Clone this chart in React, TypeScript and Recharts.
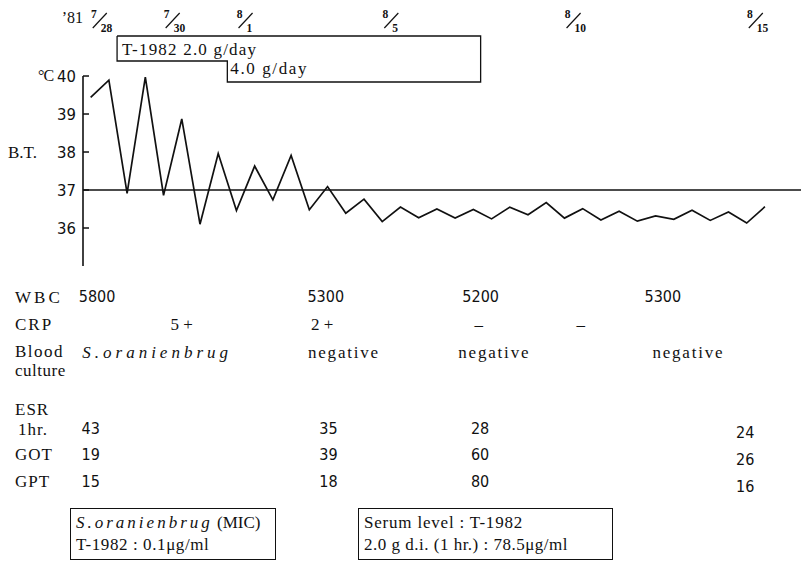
import React from 'react'
import { LineChart, Line, XAxis, YAxis, ReferenceLine, ReferenceArea } from 'recharts'

// body temperature, two readings a day, 7/28 .. 8/15 ('81)
const bodyTemp = [
  39.44, 39.89, 36.91, 39.97, 36.86, 38.87, 36.1, 37.96, 36.46, 37.63,
  36.74, 37.91, 36.48, 37.09, 36.39, 36.76, 36.17, 36.55, 36.27, 36.5,
  36.26, 36.49, 36.24, 36.55, 36.35, 36.67, 36.26, 36.51, 36.21, 36.44,
  36.18, 36.32, 36.23, 36.47, 36.2, 36.42, 36.13, 36.56,
]

const tempTicks = [36, 37, 38, 39, 40]

// date labels on top (position in readings)
const dateTickPos = [0.5, 4.5, 8.5, 16.5, 26.5, 36.5]
const dateMonth = ['7', '7', '8', '8', '8', '8']
const dateDay = ['28', '30', '1', '5', '10', '15']

// T-1982 dosing (position in readings)
const drugStart = 1.45
const doseUp = 7.5
const drugEnd = 21.4
const doseLabels = ['T-1982 2.0 g/day', '4.0 g/day']

// lab table
const wbcAt = [0.35, 12.9, 21.4, 31.4]
const wbcVal = ['5800', '5300', '5200', '5300']
const crpAt = [5.0, 12.7, 21.3, 26.9]
const crpVal = ['5 +', '2 +', '–', '–']
const cultureAt = [3.65, 13.9, 22.15, 32.8]
const cultureVal = ['S.oranienbrug', 'negative', 'negative', 'negative']
const labAt = [0.0, 13.05, 21.37, 35.92]
const esrVal = ['43', '35', '28', '24']
const gotVal = ['19', '39', '60', '26']
const gptVal = ['15', '18', '80', '16']

const X_MIN = -0.42
const X_MAX = 38.98
const Y_MIN = 35
const Y_MAX = 41.053
const PLOT_L = 83
const PLOT_R = 801
const INK = '#111'
const SERIF = "'Liberation Serif', 'DejaVu Serif', serif"
const NARROW = "'Liberation Sans Narrow', 'DejaVu Sans Condensed', 'Liberation Sans', sans-serif"

const xPx = (i: number) => PLOT_L + ((i - X_MIN) / (X_MAX - X_MIN)) * (PLOT_R - PLOT_L)

const tempData = bodyTemp.map((t, i) => ({ x: i, t }))

// y levels of the dosing box edges (in temperature units, above the 40 line)
const boxTop = Y_MAX
const boxMid = 40.395
const boxLow = 39.842
const drugBox = [
  { x: drugStart, level: boxTop },
  { x: drugEnd, level: boxTop },
  { x: drugEnd, level: boxLow },
  { x: doseUp, level: boxLow },
  { x: doseUp, level: boxMid },
  { x: drugStart, level: boxMid },
  { x: drugStart, level: boxTop },
]

function TempTick(props: any) {
  const { x, y, payload } = props
  return (
    <g>
      <line x1={x} x2={x + 6} y1={y} y2={y} stroke={INK} strokeWidth={1.5} />
      <text x={x - 7} y={y} dy="0.36em" textAnchor="end" fontFamily={NARROW} fontSize={16.5} fill={INK}>
        {payload.value}
      </text>
      {payload.value === 40 && (
        <text x={x - 45} y={y} dy="0.34em" fontFamily={SERIF} fontSize={16} fill={INK} letterSpacing={-1}>
          °C
        </text>
      )}
      {payload.value === 38 && (
        <text x={x - 75} y={y} dy="0.34em" fontFamily={SERIF} fontSize={17} fill={INK}>
          B.T.
        </text>
      )}
    </g>
  )
}

function DateTick(props: any) {
  const { x, y, payload } = props
  const k = dateTickPos.indexOf(payload.value)
  return (
    <g fill={INK} fontFamily={SERIF} fontWeight="bold" fontSize={11.5}>
      {k === 0 && (
        <text x={x - 38} y={y - 13} fontSize={16} fontWeight="normal">
          ’81
        </text>
      )}
      <text x={x - 6} y={y - 18} textAnchor="middle">{dateMonth[k]}</text>
      <line x1={x - 7} y1={y - 8} x2={x + 7} y2={y - 23} stroke={INK} strokeWidth={1.2} />
      <text x={x + 1} y={y - 4}>{dateDay[k]}</text>
    </g>
  )
}

function Cell({ x, y, children, style }: any) {
  return (
    <div
      style={{
        position: 'absolute', left: x, top: y, transform: 'translate(-50%, -50%)',
        whiteSpace: 'nowrap', lineHeight: 1, color: INK, ...style,
      }}
    >
      {children}
    </div>
  )
}

function RowLabel({ x = 15, y, children, spacing = 1 }: any) {
  return (
    <div
      style={{
        position: 'absolute', left: x, top: y, transform: 'translateY(-50%)',
        whiteSpace: 'nowrap', lineHeight: 1, color: INK, fontFamily: SERIF,
        fontSize: 17, letterSpacing: spacing,
      }}
    >
      {children}
    </div>
  )
}

const numStyle = { fontFamily: NARROW, fontSize: 16 }
const serifStyle = { fontFamily: SERIF, fontSize: 17, letterSpacing: 1.8 }
const italicStyle = { fontFamily: SERIF, fontSize: 17, fontStyle: 'italic', letterSpacing: 4 }

export default function App() {
  const labelStyle = { fontFamily: SERIF, fontSize: 17, fill: INK, letterSpacing: 1.2 }
  const label2Style = { fontFamily: SERIF, fontSize: 17, fill: INK, letterSpacing: 1.6 }
  return (
    <div style={{ position: 'absolute', left: 0, top: 0, width: 804, height: 562, background: '#fff', overflow: 'hidden' }}>
      <LineChart width={804} height={562} data={tempData} margin={{ top: 0, right: 3, left: 23, bottom: 296 }}>
        <XAxis
          xAxisId="top"
          orientation="top"
          type="number"
          dataKey="x"
          domain={[X_MIN, X_MAX]}
          ticks={dateTickPos}
          tick={<DateTick />}
          tickSize={0}
          tickMargin={0}
          axisLine={false}
          tickLine={false}
          height={36}
        />
        <XAxis
          xAxisId="bottom"
          type="number"
          dataKey="x"
          domain={[X_MIN, X_MAX]}
          tick={false}
          tickLine={false}
          axisLine={{ stroke: INK, strokeWidth: 1.8 }}
          height={0}
        />
        <YAxis
          type="number"
          domain={[Y_MIN, Y_MAX]}
          ticks={tempTicks}
          tick={<TempTick />}
          tickSize={0}
          tickMargin={0}
          axisLine={false}
          tickLine={false}
          width={60}
        />
        <ReferenceLine
          xAxisId="bottom"
          segment={[{ x: X_MIN, y: Y_MIN }, { x: X_MIN, y: 40 }]}
          stroke={INK}
          strokeWidth={1.6}
        />
        <ReferenceLine xAxisId="bottom" y={37} stroke={INK} strokeWidth={1.6} />
        <ReferenceArea
          xAxisId="bottom"
          x1={drugStart}
          x2={drugEnd}
          y1={boxMid}
          y2={boxTop}
          fill="none"
          stroke="none"
          label={{ value: doseLabels[0], position: 'insideLeft', offset: 5, style: labelStyle }}
        />
        <ReferenceArea
          xAxisId="bottom"
          x1={doseUp}
          x2={drugEnd}
          y1={40.053}
          y2={boxMid}
          fill="none"
          stroke="none"
          label={{ value: doseLabels[1], position: 'insideLeft', offset: 3, style: label2Style }}
        />
        <Line
          xAxisId="bottom"
          data={drugBox}
          dataKey="level"
          type="linear"
          stroke={INK}
          strokeWidth={1.3}
          dot={false}
          isAnimationActive={false}
        />
        <Line
          xAxisId="bottom"
          dataKey="t"
          type="linear"
          stroke={INK}
          strokeWidth={1.7}
          dot={false}
          isAnimationActive={false}
        />
      </LineChart>

      <RowLabel y={297} spacing={3}>WBC</RowLabel>
      <RowLabel y={324} spacing={2}>CRP</RowLabel>
      <RowLabel y={351} spacing={1.5}>Blood</RowLabel>
      <RowLabel y={370} spacing={0.5}>culture</RowLabel>
      <RowLabel y={409}>ESR</RowLabel>
      <RowLabel x={18} y={429}>1hr.</RowLabel>
      <RowLabel y={454} spacing={1}>GOT</RowLabel>
      <RowLabel y={481} spacing={1}>GPT</RowLabel>

      {wbcVal.map((v, i) => (
        <Cell key={'w' + i} x={xPx(wbcAt[i])} y={297} style={numStyle}>{v}</Cell>
      ))}
      {crpVal.map((v, i) => (
        <Cell key={'c' + i} x={xPx(crpAt[i])} y={324} style={{ fontFamily: SERIF, fontSize: 17 }}>{v}</Cell>
      ))}
      {cultureVal.map((v, i) => (
        <Cell key={'b' + i} x={xPx(cultureAt[i])} y={352} style={i === 0 ? italicStyle : serifStyle}>{v}</Cell>
      ))}
      {esrVal.map((v, i) => (
        <Cell key={'e' + i} x={xPx(labAt[i])} y={429 + (i === 3 ? 4 : 0)} style={numStyle}>{v}</Cell>
      ))}
      {gotVal.map((v, i) => (
        <Cell key={'g' + i} x={xPx(labAt[i])} y={455 + (i === 3 ? 5 : 0)} style={numStyle}>{v}</Cell>
      ))}
      {gptVal.map((v, i) => (
        <Cell key={'p' + i} x={xPx(labAt[i])} y={482 + (i === 3 ? 5 : 0)} style={numStyle}>{v}</Cell>
      ))}

      <div
        style={{
          position: 'absolute', left: 70, top: 508, width: 206, height: 52,
          border: `1.5px solid ${INK}`, fontFamily: SERIF, fontSize: 17, color: INK,
          lineHeight: '22px', padding: '3px 0 0 5px', boxSizing: 'border-box', whiteSpace: 'nowrap',
        }}
      >
        <div>
          <span style={{ fontStyle: 'italic', letterSpacing: 3 }}>S.oranienbrug</span> (MIC)
        </div>
        <div style={{ letterSpacing: 0.6 }}>T-1982 : 0.1μg/ml</div>
      </div>
      <div
        style={{
          position: 'absolute', left: 358, top: 508, width: 255, height: 52,
          border: `1.5px solid ${INK}`, fontFamily: SERIF, fontSize: 17, color: INK,
          lineHeight: '22px', padding: '3px 0 0 5px', boxSizing: 'border-box', whiteSpace: 'nowrap',
        }}
      >
        <div style={{ letterSpacing: 0.8 }}>Serum level : T-1982</div>
        <div style={{ letterSpacing: 0.5 }}>2.0 g d.i. (1 hr.) : 78.5μg/ml</div>
      </div>
    </div>
  )
}
